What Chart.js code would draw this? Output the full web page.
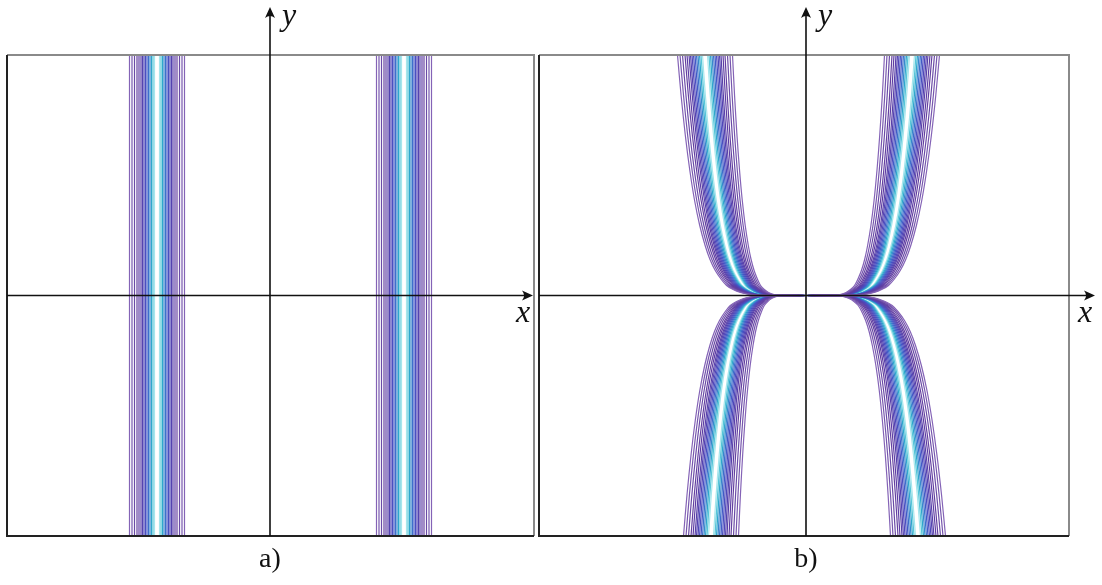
<!DOCTYPE html>
<html>
<head>
<meta charset="utf-8">
<script src="https://cdn.jsdelivr.net/npm/chart.js@4.4.1/dist/chart.umd.min.js"></script>
<style>
  html, body { margin: 0; padding: 0; background: #fff; }
  body { width: 1102px; height: 585px; position: relative; overflow: hidden; }
  canvas { position: absolute; top: 0; }
  #chartA { left: 0; }
  #chartB { left: 537px; }
</style>
</head>
<body>
<canvas id="chartA" width="545" height="585"></canvas>
<canvas id="chartB" width="565" height="585"></canvas>
<script>
// band centres (x) of the straight contour families in panel a)
const bandCentersA = [-113, 134];

// offsets of the contour lines from the band centre, inner to outer
const bandOffsets = [2.5, 4, 5.5, 7, 8.5, 10, 11.5, 13, 14.5, 16, 18, 20, 22.5, 25, 27.5];
const bandColors = ['#a6e6ec', '#55c6d8', '#2ea7cc', '#3788cc', '#3d6fcb', '#425ac6', '#4a4ec0',
                    '#4f47b8', '#5443b0', '#5940a9', '#5e3da4', '#6440a0', '#6a4aa6', '#7656ad', '#8463b6'];

// panel b): shape of the centre curve, |y| against relative |x|
const profileY = [0, 0.5, 1.5, 3, 6, 10, 16, 25, 36, 50, 70, 95, 125, 160, 200, 240.5];
const profileX = [0, 0.39, 0.46, 0.51, 0.567, 0.618, 0.659, 0.706, 0.747, 0.785, 0.827, 0.867, 0.904, 0.939, 0.972, 1];

// x of the centre curve at the frame edge for each branch
const branchX = { topRight: 106, topLeft: -101, bottomRight: 112, bottomLeft: -95 };

const axisFont = 'italic 32px "Liberation Serif", "DejaVu Serif", serif';
const captionFont = '28px "Liberation Serif", "DejaVu Serif", serif';

function arrowHead(ctx, x, y, dir) {
    // dir: 'up' or 'right'
    ctx.save();
    ctx.translate(x, y);
    if (dir === 'right') ctx.rotate(Math.PI / 2);
    ctx.beginPath();
    ctx.moveTo(0, 0);
    ctx.lineTo(-5, 11);
    ctx.quadraticCurveTo(0, 7, 5, 11);
    ctx.closePath();
    ctx.fill();
    ctx.restore();
}

function framePlugin(opts) {
    return {
        id: 'frame',
        afterDatasetsDraw(chart) {
            const { ctx, chartArea: a, scales } = chart;
            const x0 = scales.x.getPixelForValue(0);
            const y0 = scales.y.getPixelForValue(0);
            ctx.save();
            // frame: top/right light, left/bottom dark
            ctx.lineWidth = 2;
            ctx.strokeStyle = '#8a8a8a';
            ctx.beginPath();
            ctx.moveTo(a.left, a.top); ctx.lineTo(a.right, a.top); ctx.lineTo(a.right, a.bottom);
            ctx.stroke();
            ctx.strokeStyle = '#222';
            ctx.beginPath();
            ctx.moveTo(a.left, a.top); ctx.lineTo(a.left, a.bottom); ctx.lineTo(a.right, a.bottom);
            ctx.stroke();

            // axes
            ctx.strokeStyle = '#111';
            ctx.fillStyle = '#111';
            ctx.lineWidth = 1.6;
            ctx.beginPath();
            ctx.moveTo(a.left, y0); ctx.lineTo(opts.xEnd - 4, y0);
            ctx.moveTo(x0, a.bottom); ctx.lineTo(x0, 12);
            ctx.stroke();
            arrowHead(ctx, opts.xEnd, y0, 'right');
            arrowHead(ctx, x0, 7, 'up');

            // axis names and caption
            ctx.font = axisFont;
            ctx.textAlign = 'center';
            ctx.textBaseline = 'middle';
            ctx.fillText('x', opts.xEnd - 10, y0 + 18);
            ctx.fillText('y', x0 + 19, 17);
            ctx.font = captionFont;
            ctx.fillText(opts.caption, x0, 560);
            ctx.restore();
        }
    };
}

function lineSet(points, color) {
    return {
        data: points,
        showLine: true,
        borderColor: color,
        borderWidth: 1.2,
        pointRadius: 0,
        tension: 0.3,
        fill: false
    };
}

// panel a): vertical contour lines
const datasetsA = [];
for (let i = bandOffsets.length - 1; i >= 0; i--) {
    bandCentersA.forEach(c => {
        [-1, 1].forEach(side => {
            const xv = c + side * bandOffsets[i];
            datasetsA.push(lineSet([{ x: xv, y: -240.5 }, { x: xv, y: 240.5 }], bandColors[i]));
        });
    });
}

// panel b): curves through the origin
const datasetsB = [];
for (let i = bandOffsets.length - 1; i >= 0; i--) {
    Object.entries(branchX).forEach(([name, edgeX]) => {
        const ySign = name.startsWith('top') ? 1 : -1;
        const xSign = Math.sign(edgeX);
        [-1, 1].forEach(side => {
            const reach = Math.abs(edgeX) + side * bandOffsets[i];
            const pts = profileY.map((yv, k) => ({ x: xSign * profileX[k] * reach, y: ySign * yv }));
            datasetsB.push(lineSet(pts, bandColors[i]));
        });
    });
}

function makeChart(id, datasets, xMin, xMax, padding, opts) {
    return new Chart(document.getElementById(id), {
        type: 'scatter',
        data: { datasets },
        options: {
            responsive: false,
            animation: false,
            layout: { padding },
            scales: {
                x: { type: 'linear', min: xMin, max: xMax, display: false },
                y: { type: 'linear', min: -240.5, max: 240.5, display: false }
            },
            plugins: { legend: { display: false }, tooltip: { enabled: false } }
        },
        plugins: [framePlugin(opts)]
    });
}

makeChart('chartA', datasetsA, -263, 264, { left: 7, right: 11, top: 55, bottom: 49 }, { xEnd: 533, caption: 'a)' });
makeChart('chartB', datasetsB, -267, 263, { left: 2, right: 33, top: 55, bottom: 49 }, { xEnd: 558, caption: 'b)' });
</script>
</body>
</html>
